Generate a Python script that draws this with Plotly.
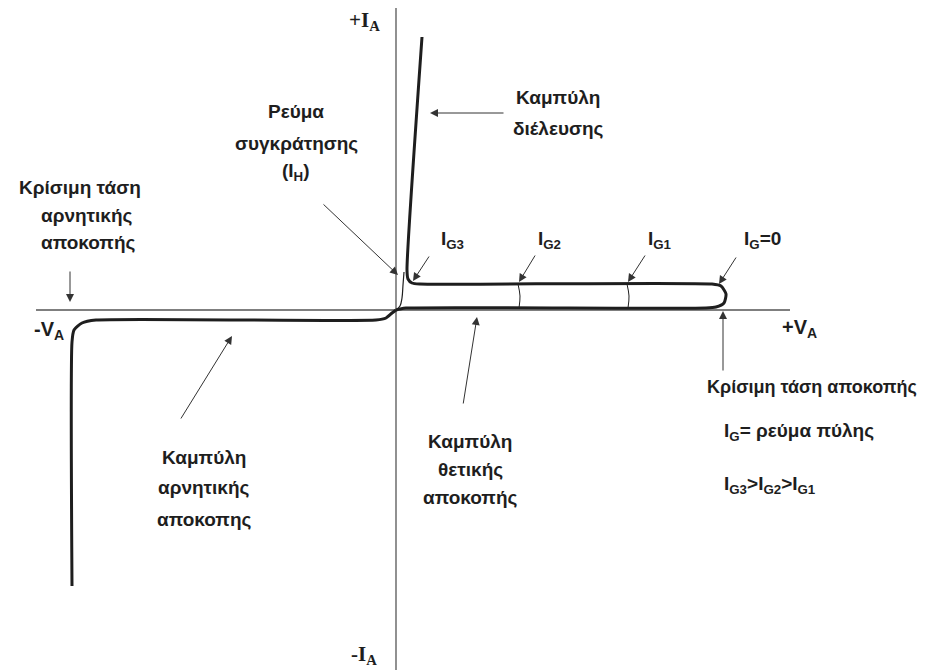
import plotly.graph_objects as go

# ---- data (origin at the intersection of the axes; x = anode voltage, y = anode current) ----
axis_v_x = [-360, 394]
axis_v_y = [0, 0]
axis_i_x = [0, 0]
axis_i_y = [302, -360]

# conduction + forward blocking loop (thick)
on_x = [26, 11, 12, 16, 24, 316, 325, 330, 328, 320, 310, 10, 4, 0]
on_y = [273, 40, 31, 27, 26, 26, 24, 16, 7, 3, 2, 2, 1, 0]

# holding-current thin curve
hold_x = [0, 4, 6, 7, 8]
hold_y = [0, 4, 12, 25, 38]

# reverse blocking curve (thick)
rev_x = [0, -4, -10, -20, -300, -314, -322, -324, -324]
rev_y = [0, -3, -8, -10, -10, -13, -20, -32, -276]

# gate-current markers
ig2_x = [122, 124, 123]
ig2_y = [26, 14, 2]
ig1_x = [231, 233, 232]
ig1_y = [26, 14, 2]

# arrows: (tail_x, tail_y, head_x, head_y)
arrows = [
    (109, 197, 34, 197),
    (-74, 107, 2, 35),
    (-326, 40, -326, 8),
    (34, 55, 17, 29),
    (140, 56, 123, 28),
    (250, 56, 232, 28),
    (341, 54, 323, 26),
    (327, -62, 327, -1),
    (67, -95, 81, -7),
    (-216, -110, -164, -26),
]

# text labels: (text, x, y, anchor, size)
labels = [
    ("Καμπύλη", 162, 213, "center", 19),
    ("διέλευσης", 162, 182, "center", 19),
    ("Ρεύμα", -100, 199, "center", 19),
    ("συγκράτησης", -100, 167, "center", 19),
    ("(I<sub>H</sub>)", -100, 138, "center", 19),
    ("Κρίσιμη τάση", -316, 123, "center", 19),
    ("αρνητικής", -309, 95, "center", 19),
    ("αποκοπής", -308, 68, "center", 19),
    ("I<sub>G3</sub>", 56, 70, "center", 19),
    ("I<sub>G2</sub>", 153, 70, "center", 19),
    ("I<sub>G1</sub>", 264, 70, "center", 19),
    ("I<sub>G</sub>=0", 366, 70, "center", 19),
    ("-V<sub>A</sub>", -347, -20, "center", 20),
    ("+V<sub>A</sub>", 403, -18, "center", 20),
    ("Κρίσιμη τάση αποκοπής", 523, -77, "right", 18),
    ("I<sub>G</sub>= ρεύμα πύλης", 326, -122, "left", 19),
    ("I<sub>G3</sub>>I<sub>G2</sub>>I<sub>G1</sub>", 326, -175, "left", 19),
    ("Καμπύλη", 74, -131, "center", 19),
    ("θετικής", 74, -159, "center", 19),
    ("αποκοπής", 74, -187, "center", 19),
    ("Καμπύλη", -192, -147, "center", 19),
    ("αρνητικής", -192, -177, "center", 19),
    ("αποκοπης", -192, -209, "center", 19),
]

serif_labels = [
    ("+I<sub>A</sub>", -32, 289),
    ("-I<sub>A</sub>", -32, -345),
]

# ---- figure ----
INK = "#1e1e1e"
fig = go.Figure()

fig.add_trace(go.Scatter(x=axis_v_x, y=axis_v_y, mode="lines",
                         line=dict(color="#555555", width=1.3), hoverinfo="skip"))
fig.add_trace(go.Scatter(x=axis_i_x, y=axis_i_y, mode="lines",
                         line=dict(color="#555555", width=1.3), hoverinfo="skip"))
fig.add_trace(go.Scatter(x=hold_x, y=hold_y, mode="lines",
                         line=dict(color=INK, width=1.2, shape="spline"), hoverinfo="skip"))
fig.add_trace(go.Scatter(x=on_x, y=on_y, mode="lines",
                         line=dict(color=INK, width=3, shape="spline", smoothing=0.6),
                         hoverinfo="skip"))
fig.add_trace(go.Scatter(x=rev_x, y=rev_y, mode="lines",
                         line=dict(color=INK, width=3, shape="spline", smoothing=0.6),
                         hoverinfo="skip"))
for xs, ys in [(ig2_x, ig2_y), (ig1_x, ig1_y)]:
    fig.add_trace(go.Scatter(x=xs, y=ys, mode="lines",
                             line=dict(color=INK, width=1, shape="spline"), hoverinfo="skip"))

annotations = []
for tx, ty, hx, hy in arrows:
    annotations.append(dict(x=hx, y=hy, ax=tx, ay=ty, xref="x", yref="y",
                            axref="x", ayref="y", showarrow=True, text="",
                            arrowhead=2, arrowsize=1.6, arrowwidth=1,
                            arrowcolor="#333333"))
for text, x, y, anchor, size in labels:
    annotations.append(dict(x=x, y=y, xref="x", yref="y", text=text, showarrow=False,
                            xanchor=anchor, yanchor="middle",
                            font=dict(family="Liberation Sans, Arial", size=size,
                                      color=INK, weight="bold")))
for text, x, y in serif_labels:
    annotations.append(dict(x=x, y=y, xref="x", yref="y", text=text, showarrow=False,
                            xanchor="center", yanchor="middle",
                            font=dict(family="Liberation Serif, Times New Roman", size=21,
                                      color=INK, weight="bold")))

# the page body adds an 8px margin, so the figure sits 8px right/down in the window;
# the axis ranges are offset to compensate
fig.update_layout(
    width=925, height=670,
    margin=dict(l=0, r=0, t=0, b=0),
    paper_bgcolor="white", plot_bgcolor="white",
    showlegend=False,
    annotations=annotations,
    xaxis=dict(range=[-388, 537], visible=False, fixedrange=True),
    yaxis=dict(range=[-368, 302], visible=False, fixedrange=True),
)

fig.write_html("out.html")
